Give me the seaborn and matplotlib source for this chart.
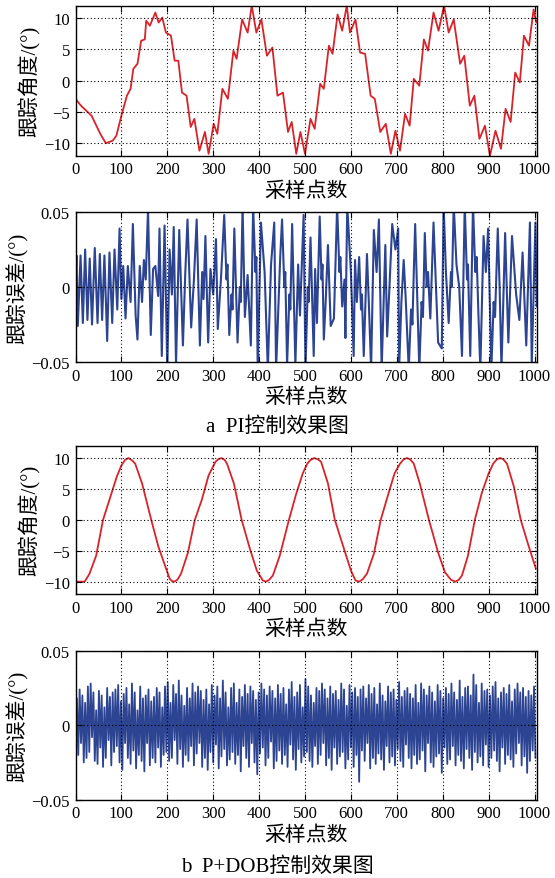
import numpy as np
import pandas as pd
import matplotlib
matplotlib.use("Agg")
import matplotlib.pyplot as plt
import seaborn as sns
from matplotlib.ticker import FixedLocator, FixedFormatter

# ---------------- data ----------------
# (a) PI control: tracking angle, vertices (sample index, degrees)
pi_angle_x = [0, 12, 35, 54, 66, 81, 89, 100, 112, 120, 126, 135, 143, 151, 154, 162,
              174, 181, 189, 197, 208, 216, 224, 232, 242, 251, 259, 270, 282, 290, 301,
              309, 320, 332, 344, 351, 363, 375, 384, 394, 405, 417, 429, 440, 452, 463,
              471, 481, 490, 500, 512, 521, 533, 541, 552, 560, 571, 581, 591, 598, 610,
              620, 631, 643, 652, 664, 676, 687, 697, 707, 718, 728, 737, 749, 759, 768,
              780, 791, 803, 813, 824, 838, 847, 859, 869, 880, 892, 903, 915, 927, 937,
              948, 958, 968, 977, 988, 998, 1004]
pi_angle_y = [-2.9, -4.0, -5.6, -8.5, -10.0, -9.6, -8.8, -5.6, -2.4, -1.3, 1.9, 2.7, 6.4,
              6.6, 9.6, 8.8, 10.9, 9.3, 10.1, 7.7, 7.2, 3.2, 3.2, -1.9, -2.4, -7.4, -6.1,
              -11.2, -8.2, -11.7, -6.9, -8.5, -1.3, -2.9, 4.8, 3.5, 9.8, 7.7, 12.0, 7.7,
              9.8, 4.0, 5.3, -2.4, -1.9, -8.2, -6.6, -11.7, -8.2, -11.7, -6.1, -7.7, -0.5,
              -1.3, 5.6, 4.3, 10.6, 8.0, 12.0, 7.7, 9.8, 4.5, 4.3, -2.4, -2.9, -8.2, -6.9,
              -11.7, -8.0, -11.2, -5.3, -7.2, 0.3, -0.8, 6.6, 4.8, 10.9, 8.0, 12.0, 7.7,
              9.8, 2.7, 4.0, -4.0, -2.4, -9.3, -7.2, -12.0, -8.0, -10.9, -4.5, -6.6, 1.3,
              -0.3, 7.2, 5.6, 11.4, 9.3]

# (a) PI control: tracking error, vertices (sample index, 1e-3 degrees)
pi_err_x = [0, 2, 5, 11, 16, 21, 26, 31, 36, 42, 48, 53, 58, 63, 69, 74, 80, 85, 91, 96,
            100, 104, 109, 114, 120, 125, 131, 135, 140, 145, 149, 153, 158, 164, 169, 174,
            180, 183, 188, 194, 200, 205, 210, 214, 219, 226, 234, 239, 244, 252, 258, 264,
            271, 276, 279, 283, 289, 294, 300, 306, 310, 317, 324, 329, 331, 335, 340, 342,
            346, 353, 358, 360, 364, 369, 375, 382, 387, 392, 394, 397, 404, 412, 419, 426,
            433, 437, 446, 450, 455, 457, 461, 466, 468, 472, 479, 485, 489, 497, 501, 506,
            508, 512, 519, 522, 526, 532, 536, 538, 541, 545, 550, 556, 563, 570, 575, 577,
            581, 586, 588, 592, 600, 606, 609, 613, 618, 622, 624, 628, 635, 639, 644, 650,
            656, 661, 667, 675, 679, 684, 690, 697, 703, 705, 710, 715, 719, 726, 731, 734,
            737, 740, 744, 749, 754, 757, 761, 765, 768, 773, 780, 790, 798, 802, 807, 813,
            818, 820, 824, 830, 836, 842, 848, 853, 855, 860, 866, 871, 874, 878, 882, 889,
            894, 899, 906, 911, 914, 917, 920, 924, 928, 936, 943, 951, 960, 967, 974, 982,
            990, 994, 1002, 1005]
pi_err_y = [0, 21, -26, 21, -24, 25, -22, 19, -25, 26, -24, 22, -22, 21, -36, 23, -24, 25,
            -15, 39, -8, 14, -21, 14, -10, 42, -19, -35, 14, -10, 18, 5, 52, -32, 12, 14,
            -6, 39, -46, 41, -55, 25, -5, 40, -52, 38, -39, 8, 45, -27, 5, 45,
            -39, 10, -8, 34, -37, 12, -5, 32, -28, 6, 48, 5, 15, -32, -5, -15,
            39, -37, 0, -10, 54, -20, 8, -39, 54, 10, 20, -55, 43, 10, -55, 15,
            43, -55, 20, 45, 0, 10, -52, -5, -15, 42, -52, 15, -19, 48, -55, 0,
            -10, 33, -46, 12, -24, 47, 5, 15, -35, -10, 28, -26, -21, 54, 10, 20,
            -13, 5, -34, 54, 10, -46, 18, -10, 20, -15, -5, -46, 22, -10, -55, 38,
            10, 45, -55, 28, -33, 0, 42, 25, 39, -55, -10, 18, -5, -55, -15, -25,
            10, 42, 0, -55, -10, -20, 36, 0, 10, -21, 43, -37, -41, 55, 10, -24,
            10, 0, 55, 15, 0, -46, 55, 5, 15, -46, 55, 10, 20, -20, -55, 34,
            10, 39, -55, -10, -20, 10, 39, 0, -55, 36, -37, 34, -5, -22, 23, -39,
            43, -52, 43, -13]

# (b) P+DOB control: tracking angle, vertices (sample index, degrees)
dob_angle_x = [0, 20, 30, 45, 60, 75, 90, 100, 108, 115, 122, 130, 145, 165, 180, 195, 205,
               210, 215, 222, 230, 245, 260, 275, 290, 305, 311, 318, 325, 330, 345, 362,
               380, 395, 408, 415, 422, 430, 445, 465, 480, 495, 505, 512, 520, 528, 535,
               550, 565, 585, 600, 610, 618, 626, 635, 650, 665, 680, 695, 707, 715, 722,
               729, 737, 750, 770, 790, 805, 818, 828, 835, 842, 855, 870, 885, 900, 910,
               918, 925, 932, 940, 955, 970, 985, 1003]
dob_angle_y = [-10.0, -10.0, -8.8, -5.8, 0.0, 3.5, 7.0, 8.8, 9.7, 10.0, 9.7, 9.1, 5.9, 0.0,
               -4.2, -7.4, -9.5, -9.9, -10.0, -9.7, -8.7, -5.3, 0.0, 3.2, 7.2, 9.4, 9.8,
               10.0, 9.7, 9.1, 5.9, 0.0, -4.7, -8.2, -9.8, -10.0, -9.7, -9.0, -5.8, 0.0,
               4.0, 7.5, 9.1, 9.7, 10.0, 9.8, 9.4, 5.9, 0.0, -4.7, -8.2, -9.8, -10.0, -9.6,
               -8.7, -5.5, 0.0, 3.8, 7.5, 9.1, 9.8, 10.0, 9.8, 9.1, 5.9, 0.0, -5.3, -8.5,
               -9.7, -10.0, -9.7, -9.0, -5.8, 0.0, 4.3, 7.5, 9.1, 9.8, 10.0, 9.8, 9.1, 5.4,
               0.0, -3.7, -7.9]

# (b) P+DOB control: tracking error, every 3rd sample (1e-3 degrees)
dob_err_step = 3
dob_err_y = [5, 18, -20, 24, -12, 20, -25, 15, -22, 26,
             -18, 28, -8, 22, -24, 10, -26, 23, -15, 20,
             -28, 12, -22, 25, -10, 19, -27, 22, -18, 24,
             -14, 27, -25, 16, -30, 21, -12, 25, -22, 14,
             -26, 28, -17, 22, -29, 10, -20, 26, -24, 18,
             -31, 20, -12, 24, -27, 16, -22, 19, -25, 25,
             -15, 22, -28, 12, -20, 26, -18, 29, -24, 15,
             -22, 27, -10, 21, -26, 30, -16, 20, -28, 13,
             -20, 25, -24, 18, -14, 28, -27, 22, -19, 26,
             -12, 23, -28, 17, -22, 24, -30, 14, -18, 27,
             -25, 20, -13, 26, -29, 18, -21, 30, -16, 22,
             -27, 12, -23, 25, -18, 28, -26, 15, -20, 24,
             -31, 19, -14, 27, -22, 21, -28, 26, -12, 23,
             -25, 17, -33, 22, -19, 28, -15, 24, -27, 20,
             -22, 26, -11, 23, -29, 18, -24, 27, -17, 21,
             -26, 25, -20, 14, -28, 24, -13, 29, -23, 19,
             -30, 22, -16, 27, -25, 12, -21, 31, -18, 26,
             -24, 20, -28, 15, -14, 25, -26, 23, -20, 28,
             -12, 24, -27, 18, -22, 26, -30, 21, -15, 23,
             -26, 17, -21, 28, -18, 24, -29, 13, -23, 27,
             -15, 22, -28, 25, -20, 19, -38, 24, -17, 26,
             -24, 18, -12, 27, -29, 21, -22, 25, -26, 14,
             -19, 28, -23, 20, -30, 16, -14, 26, -25, 22,
             -21, 24, -27, 17, -16, 29, -24, 19, -28, 23,
             -13, 25, -22, 21, -29, 18, -20, 27, -26, 15,
             -23, 28, -17, 24, -31, 20, -12, 26, -25, 22,
             -28, 16, -21, 27, -19, 23, -32, 18, -15, 25,
             -26, 21, -23, 28, -14, 22, -27, 17, -20, 30,
             -24, 19, -29, 25, -16, 26, -22, 20, -30, 34,
             -18, 27, -25, 15, -21, 28, -27, 23, -13, 24,
             -28, 20, -22, 26, -17, 29, -24, 18, -31, 22,
             -15, 25, -26, 21, -20, 27, -23, 16, -28, 24,
             -19, 28, -12, 22, -27, 25, -21, 19, -32, 23,
             -24, 20, -17, 26, -22]

x_ticks = [0, 100, 200, 300, 400, 500, 600, 700, 800, 900, 1000]
angle_ticks = [-10, -5, 0, 5, 10]
angle_ticklabels = ["\u221210", "\u22125", "0", "5", "10"]
err_ticks = [-0.05, 0, 0.05]
err_ticklabels = ["\u22120.05", "0", "0.05"]
xlabel = "采样点数"
ylabel_angle = "跟踪角度/(°)"
ylabel_err = "跟踪误差/(°)"
caption_a = "a  PI控制效果图"
caption_b = "b  P+DOB控制效果图"

# ---------------- style ----------------
sns.set_theme(style="ticks")
FAM = ["Liberation Serif", "Noto Sans CJK SC", "DejaVu Sans"]
plt.rcParams["font.family"] = FAM
plt.rcParams["axes.unicode_minus"] = True

RED = "#d8232a"
BLUE = "#2c4492"

W, H = 555, 879
fig = plt.figure(figsize=(W / 100, H / 100), dpi=100)
fig.patch.set_facecolor("white")


def make_axes(top, bottom, left=75.5, right=536.8):
    return fig.add_axes([left / W, 1 - bottom / H, (right - left) / W, (bottom - top) / H])


def style(ax, yticks, yticklabels, ylim, ylabel):
    ax.set_facecolor("white")
    ax.set_xlim(0, 1005)
    ax.set_ylim(*ylim)
    ax.xaxis.set_major_locator(FixedLocator(x_ticks))
    ax.set_xticklabels([str(t) for t in x_ticks])
    ax.yaxis.set_major_locator(FixedLocator(yticks))
    ax.yaxis.set_major_formatter(FixedFormatter(yticklabels))
    ax.tick_params(direction="in", length=4, width=0.8, top=True, right=True,
                   labelsize=12, pad=4, colors="black")
    for lab in ax.get_xticklabels() + ax.get_yticklabels():
        lab.set_family(FAM)
    for s in ax.spines.values():
        s.set_visible(True)
        s.set_linewidth(1.0)
        s.set_color("black")
    ax.grid(True, color="black", linestyle=(0, (1, 2.2)), linewidth=0.8)
    ax.set_axisbelow(False)
    ax.set_xlabel(xlabel, fontsize=15, family=FAM, labelpad=3, color="black")
    ax.set_ylabel(ylabel, fontsize=15, family=FAM, labelpad=2, color="black")


ax1 = make_axes(6.7, 156.7)
ax2 = make_axes(213, 363)
ax3 = make_axes(446.7, 595)
ax4 = make_axes(651.7, 800.7)

df1 = pd.DataFrame({"x": pi_angle_x, "y": pi_angle_y})
df2 = pd.DataFrame({"x": pi_err_x, "y": np.array(pi_err_y) / 1000.0})
df3 = pd.DataFrame({"x": dob_angle_x, "y": dob_angle_y})
df4 = pd.DataFrame({"x": np.arange(len(dob_err_y)) * dob_err_step,
                    "y": np.array(dob_err_y) / 1000.0})

sns.lineplot(data=df1, x="x", y="y", ax=ax1, color=RED, linewidth=1.3, estimator=None)
sns.lineplot(data=df2, x="x", y="y", ax=ax2, color=BLUE, linewidth=1.5, estimator=None)
sns.lineplot(data=df3, x="x", y="y", ax=ax3, color=RED, linewidth=1.3, estimator=None)
sns.lineplot(data=df4, x="x", y="y", ax=ax4, color=BLUE, linewidth=1.3, estimator=None)

style(ax1, angle_ticks, angle_ticklabels, (-12, 12), ylabel_angle)
style(ax2, err_ticks, err_ticklabels, (-0.05, 0.05), ylabel_err)
style(ax3, angle_ticks, angle_ticklabels, (-12, 12), ylabel_angle)
style(ax4, err_ticks, err_ticklabels, (-0.05, 0.05), ylabel_err)

fig.text(277 / W, 1 - 427 / H, caption_a, ha="center", va="center", fontsize=15,
         family=FAM, color="black")
fig.text(277 / W, 1 - 867 / H, caption_b, ha="center", va="center", fontsize=15,
         family=FAM, color="black")

fig.savefig("out.png", dpi=100, facecolor="white")
